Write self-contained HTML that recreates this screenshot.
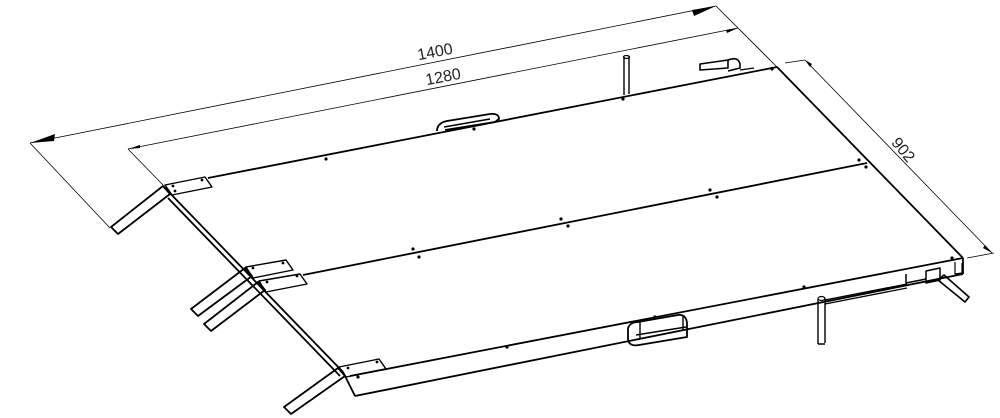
<!DOCTYPE html>
<html><head><style>html,body{margin:0;padding:0;background:#fff}svg{display:block}</style></head>
<body>
<svg width="1000" height="418" viewBox="0 0 1000 418" xmlns="http://www.w3.org/2000/svg" font-family="Liberation Sans, sans-serif">
<g stroke="#000" fill="none" stroke-width="0.8">
<line x1="30" y1="143" x2="716" y2="6"/>
<line x1="30" y1="143" x2="110" y2="228"/>
<line x1="716" y1="6" x2="777" y2="67"/>
<line x1="128" y1="149" x2="738" y2="28"/>
<line x1="128" y1="149" x2="163" y2="185"/>
<line x1="785" y1="63" x2="805" y2="60"/>
<line x1="805" y1="60" x2="992" y2="253"/>
<line x1="967" y1="258" x2="994" y2="253"/>
</g>
<g fill="#000">
<polygon points="30,143 55,134 54,141"/>
<polygon points="716,6 692,10 694,16"/>
<polygon points="128,149 140,145 140,148"/>
<polygon points="738,28 726,30 727,33"/>
<polygon points="805,60 810,67 812,64"/>
<polygon points="992,253 985,245 983,248"/>
</g>
<g fill="#222" font-size="16">
<text x="435" y="57" transform="rotate(-11 435 52)" text-anchor="middle">1400</text>
<text x="443" y="82" transform="rotate(-11 443 76)" text-anchor="middle">1280</text>
<text x="903" y="155" transform="rotate(50 903 150)" text-anchor="middle">902</text>
</g>

<g stroke="#000" fill="none" stroke-width="1.8" stroke-linejoin="round">
<line x1="208" y1="178" x2="777" y2="67"/>
<line x1="777" y1="67" x2="963" y2="258"/>
<line x1="963" y1="258" x2="350" y2="376"/>
<line x1="303" y1="275" x2="867" y2="163"/>
<line x1="163" y1="186" x2="343" y2="372"/>
<line x1="168" y1="198" x2="340" y2="376"/>
<line x1="343" y1="372" x2="355" y2="396"/>
<line x1="355" y1="396" x2="963" y2="274"/>
<line x1="963" y1="258" x2="963" y2="274"/>
<polygon points="163,186 170,194 118,234 111,227"/>
<polygon points="245,268 252,276 198,316 191,309"/>
<polygon points="258,282 265,290 211,331 204,324"/>
<polygon points="338,368 345,376 291,414 284,407"/>
<polygon points="165,185 205,177 212,187 172,195" stroke-width="1.4"/>
<polygon points="246,267 286,260 293,270 253,278" stroke-width="1.4"/>
<polygon points="259,281 300,274 307,284 266,292" stroke-width="1.4"/>
<polygon points="339,367 379,359 386,369 346,377" stroke-width="1.4"/>
<path d="M437,131 q0,-8 10,-10 l43,-7 q9,-1 9,5 l-4,3 l-50,8" stroke-width="1.8"/>
<path d="M444,127 l46,-8" stroke-width="1.4"/>
<path d="M628,328 q2,-6 10,-6 l40,-7 q8,-1 9,8 l0,14 l-48,8 q-10,2 -11,-6 z" stroke-width="1.8"/>
<path d="M636,335 l50,-8 M640,322 l0,16 M683,316 l0,14" stroke-width="1.4"/>
<path d="M624,57 l0,38 M629,56 l0,38" stroke-width="1.4"/>
<ellipse cx="626.5" cy="57" rx="3" ry="1.5" stroke-width="1.2"/>
<path d="M818,299 l0,45 M825,298 l0,45 M818,344 l7,0" stroke-width="1.4"/>
<ellipse cx="821.5" cy="298.5" rx="3.5" ry="2" stroke-width="1.2"/>
<path d="M700,64 l0,6 l28,-2 l0,-8 z M728,60 q10,-4 12,4 l0,4 l-12,3" stroke-width="1.6"/>
<path d="M740,70 l14,-2" stroke-width="1.2"/>
<path d="M825,300 l82,-16 M825,304 l82,-16" stroke-width="1.3"/>
<path d="M906,274 l0,9 l20,-4 M926,271 l14,-3 l0,12 l-14,3 z" stroke-width="1.5"/>
<path d="M938,280 l27,22 l4,-5 l-25,-22 z" stroke-width="1.6"/>
<path d="M955,262 l0,12 l7,-1 l0,-10" stroke-width="1.2"/>
</g>
<g fill="#000">
<circle cx="326" cy="159" r="1.6"/><circle cx="474" cy="129" r="1.6"/><circle cx="623" cy="99" r="1.6"/><circle cx="772" cy="69" r="1.6"/>
<circle cx="413" cy="249" r="1.6"/><circle cx="419" cy="257" r="1.6"/><circle cx="561" cy="219" r="1.6"/><circle cx="568" cy="226" r="1.6"/>
<circle cx="710" cy="190" r="1.6"/><circle cx="717" cy="197" r="1.6"/><circle cx="859" cy="160" r="1.6"/><circle cx="866" cy="167" r="1.6"/>
<circle cx="358" cy="377" r="1.6"/><circle cx="507" cy="347" r="1.6"/><circle cx="655" cy="317" r="1.6"/><circle cx="804" cy="287" r="1.6"/><circle cx="952" cy="258" r="1.6"/>
<circle cx="173" cy="186" r="1.4"/><circle cx="202" cy="180" r="1.4"/><circle cx="175" cy="191" r="1.4"/>
<circle cx="253" cy="268" r="1.4"/><circle cx="283" cy="263" r="1.4"/>
<circle cx="267" cy="282" r="1.4"/><circle cx="297" cy="276" r="1.4"/>
<circle cx="348" cy="368" r="1.4"/><circle cx="377" cy="362" r="1.4"/>
</g>
</svg>
</body></html>
